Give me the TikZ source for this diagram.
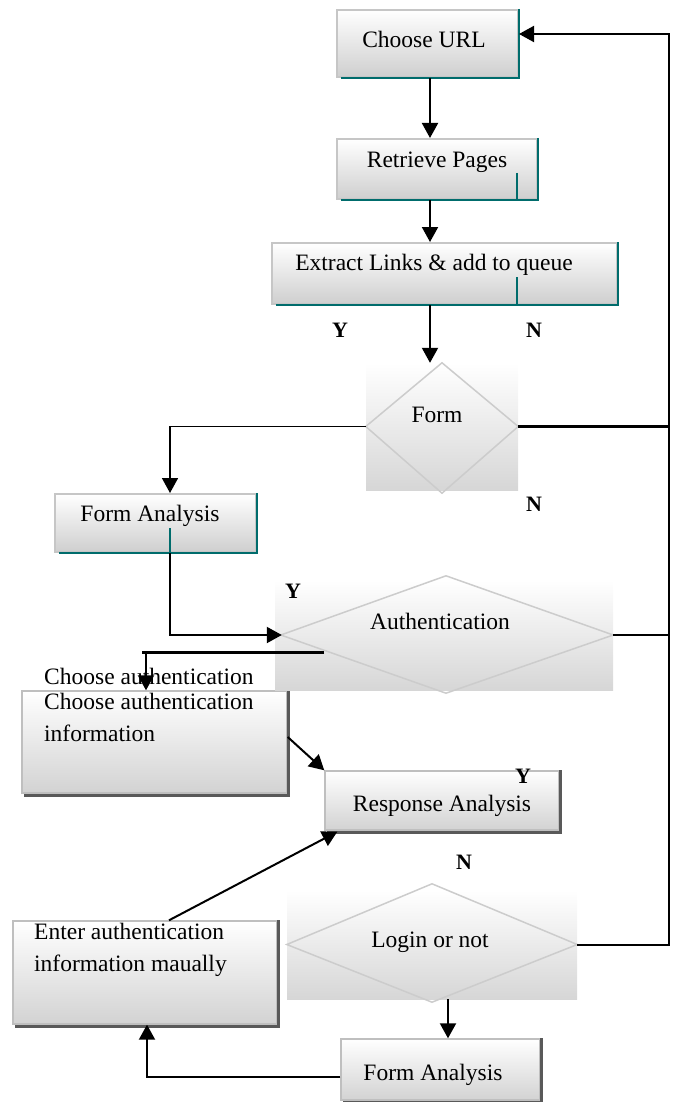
\documentclass[tikz,border=0pt]{standalone}
\usepackage{fontspec}
\setmainfont{Liberation Serif}
\usetikzlibrary{arrows.meta,positioning,calc}

\begin{document}
\begin{tikzpicture}[
x=1pt,y=-1pt,
every node/.style={font=\fontsize{23.5}{32}\selectfont},
box/.style={
draw=gray!45,
line width=2pt,
top color=white,
bottom color=gray!38,
inner sep=0pt
},
lowbox/.style={
draw=gray!50,
line width=1.4pt,
top color=white,
bottom color=gray!35,
inner sep=0pt
},
tealedge/.style={draw=teal!85!black,line width=2.4pt},
shade/.style={draw=black!65,line width=3pt},
decbg/.style={draw=none,top color=white,bottom color=gray!32,inner sep=0pt},
dec/.style={draw=gray!40,line width=1.5pt},
edge/.style={-{Triangle[length=15pt,width=16pt]},line width=2pt},
link/.style={line width=2pt},
yn/.style={font=\fontsize{22}{24}\selectfont\bfseries}
]
\useasboundingbox (0,0) rectangle (676,1102);

% boxes
\node[box,minimum width=181,minimum height=67] (url) at (427.5,43.5) {};
\node[box,minimum width=200,minimum height=60] (retr) at (437,169) {};
\node[box,minimum width=345,minimum height=61] (extr) at (444.5,273.5) {};
\node[box,minimum width=201,minimum height=58] (formA) at (155.5,523) {};
\node[lowbox,minimum width=265,minimum height=102] (chauth) at (154.5,742) {};
\node[lowbox,minimum width=234,minimum height=59] (resp) at (442,800.5) {};
\node[lowbox,minimum width=264,minimum height=103] (enter) at (145,972.5) {};
\node[lowbox,minimum width=199,minimum height=61] (formB) at (440.5,1069.5) {};

% teal edges
\foreach \b in {url,retr,extr,formA}
  \draw[tealedge] (\b.north east) -- (\b.south east) -- ([xshift=5pt]\b.south west);
\draw[tealedge] (517,173) -- (517,199);
\draw[tealedge] (517,277) -- (517,304);
\draw[tealedge] (170,528) -- (170,552);

% shadows
\foreach \b in {chauth,resp,enter,formB}
  \draw[shade] ([shift={(3pt,-2pt)}]\b.south west) -- ([shift={(1pt,-2pt)}]\b.south east) -- ([xshift=1pt]\b.north east);

% box texts
\node (urlTxt) at (424,39) {Choose URL};
\node (retrTxt) at (437,162) {Retrieve Pages};
\node (extrTxt) at (434,265) {Extract Links \& add to queue};
\node (formATxt) at (150,516) {Form Analysis};
\node (respTxt) at (442,806) {Response Analysis};
\node (formBTxt) at (433,1075) {Form Analysis};
\node[anchor=north west,inner sep=0pt,align=left] (chTxt) at (44,693) {Choose authentication\\information};
\node[anchor=north west,inner sep=0pt,align=left] (enTxt) at (34,923) {Enter authentication\\information maually};
\node[anchor=west,inner sep=0pt] (dupTxt) at (44,676) {Choose authentication};

% decisions
\node[decbg,minimum width=152,minimum height=127] (formbg) at (442,426.5) {};
\node[decbg,minimum width=338,minimum height=110] (authbg) at (444,635) {};
\node[decbg,minimum width=290,minimum height=109] (loginbg) at (432,944.5) {};
\draw[dec] (formbg.west) -- (formbg.north) -- (formbg.east) -- ([yshift=-3pt]formbg.south) -- cycle;
\draw[dec] ([xshift=6pt]authbg.west) -- ([shift={(2pt,4pt)}]authbg.north) -- (authbg.east) -- ([shift={(2pt,-3pt)}]authbg.south) -- cycle;
\draw[dec] (loginbg.west) -- ([yshift=6pt]loginbg.north) -- (loginbg.east) -- ([yshift=-3pt]loginbg.south) -- cycle;
\node (formTxt) at (437,415) {Form};
\node (authTxt) at (440,621) {Authentication};
\node (loginTxt) at (430,942) {Login or not};

% labels
\node[yn] (y1) at (340,330) {Y};
\node[yn] (n1) at (534,330) {N};
\node[yn] (n2) at (534,504) {N};
\node[yn] (y2) at (293,591) {Y};
\node[yn] (y3) at (523,776) {Y};
\node[yn] (n3) at (464,862) {N};

% connectors
\coordinate (spine) at (430,0);
\coordinate (rail) at (669,0);
\coordinate (authsplit) at (324,652);
\draw[edge] (url.south -| spine) -- (retr.north -| spine);
\draw[edge] (retr.south -| spine) -- (extr.north -| spine);
\draw[edge] (extr.south -| spine) -- (formbg.north -| spine);
\draw[edge,line width=1.6pt] (formbg.west) -| ([xshift=14.5pt]formA.north);
\draw[link,line width=3pt] (formbg.east) -- (formbg.east -| rail);
\draw[link,line width=1.6pt] (authbg.east) -- (authbg.east -| rail);
\draw[edge] (loginbg.east) -- (loginbg.east -| rail) |- ([yshift=9.5pt]url.east);
\draw[edge] ([xshift=14.5pt]formA.south) |- ([xshift=7pt]authbg.west);
\draw[link,line width=3pt] (authsplit) -- ++(-182,0);
\draw[edge] ([xshift=-8.5pt]chauth.north |- authsplit) -- ([xshift=-8.5pt]chauth.north);
\draw[edge] ([yshift=5pt]chauth.east) -- (resp.north west);
\draw[edge] ([xshift=24pt]enter.north) -- ([shift={(13pt,-1pt)}]resp.south west);
\draw[edge] ([xshift=16pt]loginbg.south) -- ([xshift=16pt]loginbg.south |- formB.north);
\draw[edge] ([yshift=-7.5pt]formB.west) -| ([xshift=2pt]enter.south);
\end{tikzpicture}
\end{document}
